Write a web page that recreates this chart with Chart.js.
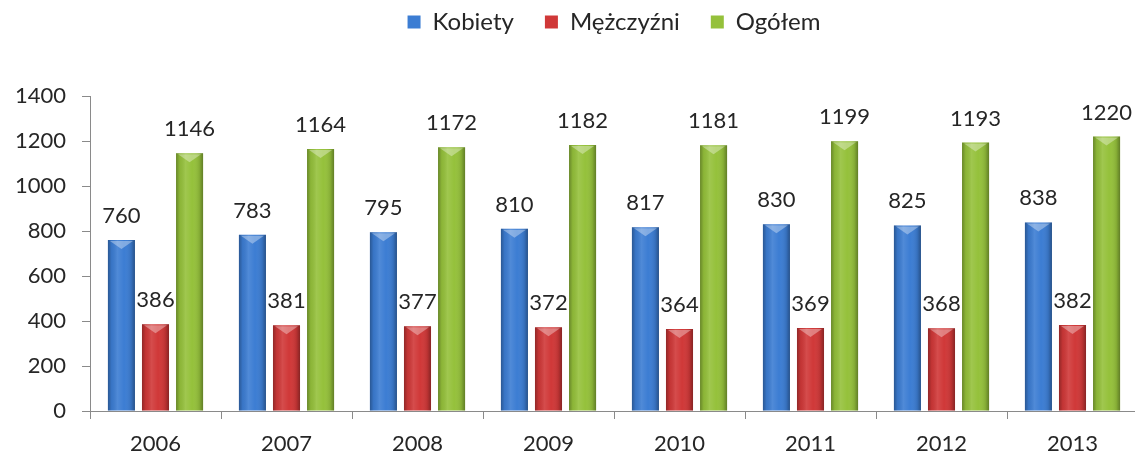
<!DOCTYPE html>
<html>
<head>
<meta charset="utf-8">
<script src="https://cdn.jsdelivr.net/npm/chart.js@4"></script>
<style>
html,body{margin:0;padding:0;background:#fff;overflow:hidden;}
#wrap{width:1140px;height:455px;}
</style>
</head>
<body>
<div id="wrap"><canvas id="c" width="1140" height="455"></canvas></div>
<script>
const categories = ['2006','2007','2008','2009','2010','2011','2012','2013'];
const seriesNames = ['Kobiety','Mężczyźni','Ogółem'];
const kobiety = [760, 783, 795, 810, 817, 830, 825, 838];
const mezczyzni = [386, 381, 377, 372, 364, 369, 368, 382];
const ogolem = [1146, 1164, 1172, 1182, 1181, 1199, 1193, 1220];
const yTicks = [0, 200, 400, 600, 800, 1000, 1200, 1400];

const FONT = 'Lato, "Open Sans", sans-serif';
const colors = ['#3c7dd3', '#d03838', '#95c13b'];
const AXIS_COLOR = '#8a8a8a';

const barStyle = {
  id: 'barStyle',
  afterDatasetsDraw(chart) {
    const ctx = chart.ctx;
    chart.data.datasets.forEach((ds, di) => {
      const meta = chart.getDatasetMeta(di);
      meta.data.forEach(bar => {
        const w = bar.width, l = bar.x - w / 2, r = bar.x + w / 2;
        const top = bar.y, base = bar.base;
        ctx.save();
        const g = ctx.createLinearGradient(l, 0, r, 0);
        g.addColorStop(0, 'rgba(0,0,0,0.30)');
        g.addColorStop(0.14, 'rgba(0,0,0,0.06)');
        g.addColorStop(0.35, 'rgba(255,255,255,0.10)');
        g.addColorStop(0.6, 'rgba(255,255,255,0.0)');
        g.addColorStop(0.86, 'rgba(0,0,0,0.10)');
        g.addColorStop(1, 'rgba(0,0,0,0.35)');
        ctx.fillStyle = g;
        ctx.fillRect(l, top, w, base - top);
        ctx.beginPath();
        ctx.moveTo(l + 2, top + 1);
        ctx.lineTo(r - 2, top + 1);
        ctx.lineTo(bar.x, top + 9);
        ctx.closePath();
        ctx.fillStyle = 'rgba(255,255,255,0.35)';
        ctx.fill();
        ctx.restore();
      });
    });
  }
};

const valueLabels = {
  id: 'valueLabels',
  afterDatasetsDraw(chart) {
    const ctx = chart.ctx;
    ctx.save();
    ctx.font = '22px ' + FONT;
    ctx.fillStyle = '#262626';
    ctx.textAlign = 'center';
    ctx.textBaseline = 'alphabetic';
    chart.data.datasets.forEach((ds, di) => {
      const meta = chart.getDatasetMeta(di);
      meta.data.forEach((bar, i) => {
        ctx.fillText(String(ds.data[i]), bar.x, bar.y - 17);
      });
    });
    ctx.restore();
  }
};

// category boundary tick marks below the x axis, placed through the x scale
const xBoundaryTicks = {
  id: 'xBoundaryTicks',
  afterDraw(chart) {
    const sx = chart.scales.x;
    const ctx = chart.ctx;
    ctx.save();
    ctx.strokeStyle = AXIS_COLOR;
    ctx.lineWidth = 1;
    ctx.beginPath();
    for (let i = 0; i <= categories.length; i++) {
      const px = Math.round(sx.getPixelForValue(i - 0.5)) + 0.5;
      if (px > chart.width) continue;
      ctx.moveTo(px, sx.top);
      ctx.lineTo(px, sx.top + 8);
    }
    ctx.stroke();
    ctx.restore();
  }
};

const LEGEND_FONT = 24;
const legendShift = {
  id: 'legendShift',
  beforeInit(chart) {
    const lg = chart.legend;
    const origFit = lg.fit;
    lg.fit = function () {
      origFit.call(this);
      this.height = 96;
    };
  },
  beforeDraw(chart) {
    chart.legend.top = 22 - LEGEND_FONT / 2 - chart.options.plugins.legend.labels.padding;
  }
};

new Chart(document.getElementById('c'), {
  type: 'bar',
  data: {
    labels: categories,
    datasets: [
      { label: seriesNames[0], data: kobiety, backgroundColor: colors[0] },
      { label: seriesNames[1], data: mezczyzni, backgroundColor: colors[1] },
      { label: seriesNames[2], data: ogolem, backgroundColor: colors[2] }
    ]
  },
  options: {
    responsive: false,
    animation: false,
    devicePixelRatio: 1,
    categoryPercentage: 0.78,
    barPercentage: 0.794,
    layout: { padding: { left: 0, right: 2, top: 0, bottom: 0 } },
    plugins: {
      legend: {
        position: 'top',
        fullSize: false,
        labels: {
          font: { family: FONT, size: LEGEND_FONT },
          color: '#262626',
          boxWidth: 13,
          boxHeight: 13,
          padding: 31
        }
      },
      tooltip: { enabled: false }
    },
    scales: {
      x: {
        offset: true,
        grid: {
          display: false,
          drawTicks: true,
          tickLength: 8
        },
        border: { display: true, color: AXIS_COLOR },
        ticks: {
          font: { family: FONT, size: 22 },
          color: '#262626',
          padding: 12
        },
        afterFit(scale) { scale.height = 44; }
      },
      y: {
        min: 0,
        max: 1400,
        afterBuildTicks(scale) { scale.ticks = yTicks.map(v => ({ value: v })); },
        grid: {
          drawOnChartArea: false,
          drawTicks: true,
          tickLength: 8,
          color: AXIS_COLOR
        },
        border: { display: true, color: AXIS_COLOR },
        ticks: {
          font: { family: FONT, size: 22 },
          color: '#262626',
          padding: 16,
          callback: (v) => String(v)
        },
        afterFit(scale) { scale.width = 90; }
      }
    }
  },
  plugins: [barStyle, valueLabels, xBoundaryTicks, legendShift]
});
</script>
</body>
</html>
